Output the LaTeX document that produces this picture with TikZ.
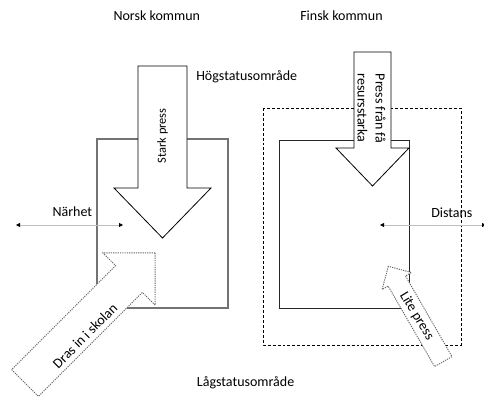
\documentclass[tikz,border=0pt]{standalone}
\usepackage{fontspec}
\setmainfont{Carlito}
\usetikzlibrary{arrows.meta}

\begin{document}
\begin{tikzpicture}[x=0.75pt,y=-0.75pt,
  label/.style={font=\fontsize{10.5}{13.5}\selectfont, inner sep=0pt},
  bigarrow/.style={draw=black, fill=white, line width=0.6pt, line join=miter},
  weakarrow/.style={draw=black!60, fill=white, line width=0.7pt, dash pattern=on 0.9pt off 0.8pt},
  span/.style={draw=black!25, line width=0.6pt,
    {Triangle[length=3pt,width=3pt,color=black]}-{Triangle[length=3pt,width=3pt,color=black]}}]
\useasboundingbox (0,0) rectangle (484,403);

\draw[black!55, line width=0.9pt] (97,139) rectangle (228,308);
\draw[black!85, line width=0.75pt] (279,140) rectangle (409,308);
\draw[dash pattern=on 2.2pt off 1.5pt, line width=0.6pt] (263,108) rectangle (461,345);

\draw[bigarrow] (138,66) -- (187,66) -- (187,188) -- (211,188) -- (162.5,238) -- (114,188) -- (138,188) -- cycle;
\draw[bigarrow] (354,52) -- (391,52) -- (391,148) -- (409,148) -- (372.5,186) -- (336,148) -- (354,148) -- cycle;
\draw[weakarrow] (155.2,252.8) -- (102.8,252.8) -- (115.6,265.6) -- (11.6,369.6) -- (38.4,396.4) -- (142.4,292.4) -- (155.2,305.2) -- cycle;
\draw[weakarrow] (388.3,266.3) -- (382.1,289.5) -- (388.1,286.0) -- (434.6,366.6) -- (452.0,356.6) -- (405.5,276.0) -- (411.5,272.5) -- cycle;

\coordinate (narA) at (16,225);
\coordinate (narB) at (123,225);
\coordinate (disA) at (380,225);
\coordinate (disB) at (486,225);
\draw[span] (narA) -- (narB);
\draw[span] (disA) -- (disB);

\node[label, anchor=base west] (norsk) at (113.3,21) {Norsk kommun};
\node[label, anchor=base west] (finsk) at (300,21) {Finsk kommun};
\node[label, anchor=base west] (hog) at (196,80) {Högstatusområde};
\node[label, anchor=base west] (lag) at (196.7,386.5) {Lågstatusområde};
\node[label, anchor=base west] (narhet) at (52.3,216.5) {Närhet};
\node[label, anchor=base west] (distans) at (431,217) {Distans};

\node[label, font=\fontsize{9.3}{11}\selectfont, rotate=90] (stark) at (162.5,135.8) {Stark press};
\node[label, rotate=-90, align=left] (fran) at (371.5,108.7) {Press från få\\resursstarka};
\node[label, rotate=45] (dras) at (85,335.8) {Dras in i skolan};
\node[label, rotate=-59] (lite) at (416.7,316.3) {Lite press};
\end{tikzpicture}
\end{document}
